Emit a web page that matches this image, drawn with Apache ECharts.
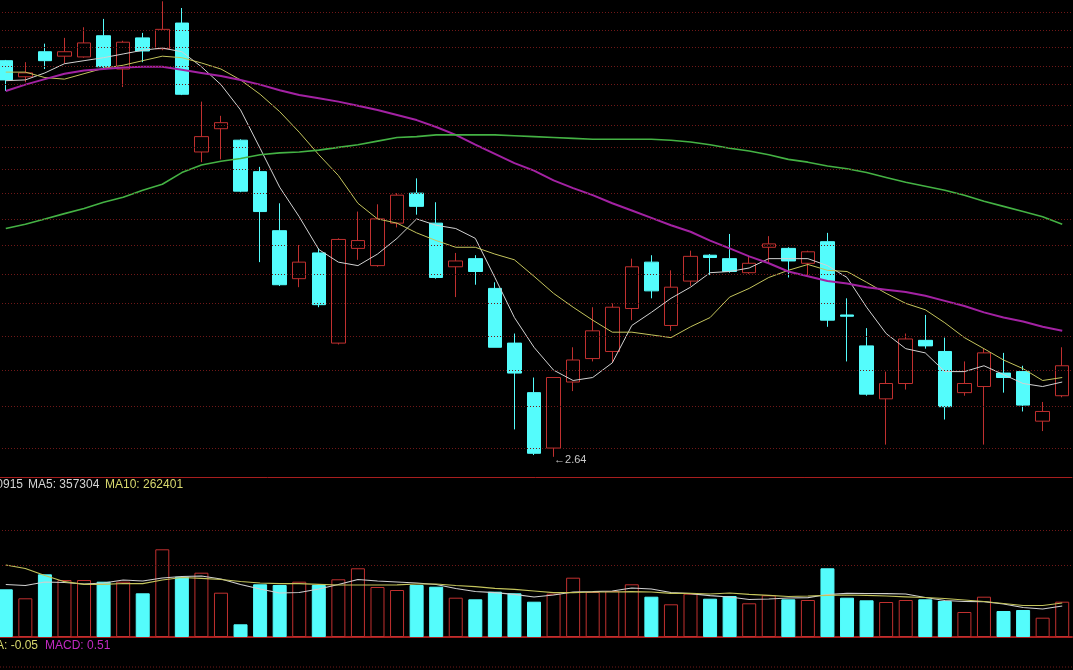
<!DOCTYPE html>
<html>
<head>
<meta charset="utf-8">
<script src="https://cdn.jsdelivr.net/npm/echarts@6/dist/echarts.min.js"></script>
<style>
  html, body { margin: 0; padding: 0; background: #000; }
  #chart { width: 1073px; height: 670px; }
</style>
</head>
<body>
<div id="chart"></div>
<script>
// daily bars, oldest first (no dates visible in the picture, so just numbered)
const open = [6.18, 5.97, 6.30, 6.24, 6.23, 6.52, 6.07, 6.49, 6.34, 6.70,
  5.08, 5.34, 5.21, 4.87, 4.29, 3.87, 4.09, 3.37, 4.13, 3.98,
  4.36, 4.65, 4.36, 3.97, 4.04, 3.79, 3.37, 3.03, 2.69, 3.10,
  3.26, 3.31, 3.63, 4.01, 3.50, 3.85, 4.07, 4.04, 3.92, 4.14,
  4.13, 4.00, 4.19, 3.58, 3.35, 2.99, 3.09, 3.39, 3.31, 3.03,
  3.07, 3.16, 3.17, 2.85, 3.01];
const close = [5.93, 6.02, 6.18, 6.30, 6.42, 6.10, 6.43, 6.31, 6.61, 5.75,
  5.25, 5.41, 4.67, 4.47, 3.82, 4.01, 3.66, 4.21, 4.20, 4.40,
  4.63, 4.52, 3.88, 4.02, 3.93, 3.34, 3.16, 2.66, 3.13, 3.25,
  3.46, 3.64, 3.97, 3.77, 3.80, 4.06, 4.05, 3.93, 4.00, 4.17,
  4.02, 4.10, 3.54, 3.57, 3.02, 3.09, 3.40, 3.35, 2.94, 3.09,
  3.30, 3.13, 2.95, 2.91, 3.21];
const low = [5.79, 5.90, 6.07, 6.14, 6.22, 6.07, 5.84, 6.16, 6.32, 5.74,
  4.97, 5.00, 4.66, 4.01, 3.81, 3.80, 3.64, 3.36, 4.03, 3.97,
  4.32, 4.44, 3.87, 3.72, 3.82, 3.34, 2.80, 2.65, 2.64, 3.04,
  3.24, 3.23, 3.54, 3.71, 3.46, 3.81, 3.90, 3.92, 3.91, 4.00,
  3.88, 3.90, 3.49, 3.24, 3.01, 2.71, 3.05, 3.33, 2.86, 3.01,
  2.71, 3.03, 2.91, 2.79, 3.00];
const high = [6.19, 6.16, 6.41, 6.49, 6.64, 6.76, 6.45, 6.56, 7.02, 6.92,
  5.66, 5.49, 5.22, 4.92, 4.55, 4.16, 4.13, 4.22, 4.47, 4.54,
  4.65, 4.80, 4.56, 4.09, 4.07, 3.84, 3.44, 3.13, 3.13, 3.34,
  3.64, 3.67, 4.04, 4.07, 3.94, 4.11, 4.08, 4.26, 4.06, 4.24,
  4.14, 4.11, 4.27, 3.71, 3.48, 3.17, 3.44, 3.58, 3.41, 3.24,
  3.33, 3.30, 3.21, 2.97, 3.34];

// moving averages as drawn on the price panel
const ma5 = [5.92, 5.93, 6.02, 6.14, 6.18, 6.22, 6.27, 6.32, 6.35, 6.30,
  6.10, 5.87, 5.56, 5.12, 4.71, 4.42, 4.12, 4.01, 3.98, 4.08,
  4.22, 4.40, 4.34, 4.31, 4.22, 3.88, 3.56, 3.34, 3.18, 3.11,
  3.13, 3.23, 3.50, 3.60, 3.71, 3.80, 3.92, 3.93, 3.96, 4.04,
  4.04, 4.04, 3.98, 3.88, 3.64, 3.44, 3.33, 3.30, 3.17, 3.17,
  3.21, 3.15, 3.09, 3.07, 3.10];
const ma10 = [6.03, 6.03, 5.96, 5.94, 6.01, 6.08, 6.12, 6.18, 6.24, 6.22,
  6.15, 6.07, 5.93, 5.75, 5.54, 5.30, 5.05, 4.83, 4.55, 4.40,
  4.36, 4.27, 4.20, 4.14, 4.14, 4.08, 4.03, 3.89, 3.75, 3.64,
  3.54, 3.45, 3.45, 3.43, 3.41, 3.49, 3.56, 3.72, 3.79, 3.88,
  3.94, 3.99, 3.94, 3.93, 3.84, 3.75, 3.67, 3.62, 3.52, 3.41,
  3.33, 3.25, 3.19, 3.11, 3.13];
const ma20 = [5.79, 5.87, 5.94, 6.01, 6.05, 6.07, 6.09, 6.10, 6.10, 6.06,
  6.02, 5.98, 5.93, 5.87, 5.80, 5.74, 5.70, 5.66, 5.61, 5.56,
  5.50, 5.44, 5.36, 5.27, 5.16, 5.06, 4.96, 4.88, 4.78, 4.70,
  4.63, 4.55, 4.48, 4.41, 4.34, 4.28, 4.20, 4.13, 4.06, 4.00,
  3.93, 3.89, 3.85, 3.83, 3.80, 3.78, 3.76, 3.73, 3.69, 3.65,
  3.60, 3.56, 3.53, 3.49, 3.46];
const ma60 = [4.31, 4.35, 4.40, 4.45, 4.50, 4.56, 4.61, 4.68, 4.74, 4.86,
  4.94, 4.98, 5.01, 5.05, 5.07, 5.08, 5.10, 5.13, 5.16, 5.20,
  5.24, 5.25, 5.27, 5.27, 5.27, 5.27, 5.26, 5.25, 5.24, 5.23,
  5.22, 5.22, 5.22, 5.22, 5.21, 5.19, 5.16, 5.12, 5.09, 5.05,
  5.00, 4.97, 4.93, 4.90, 4.86, 4.81, 4.76, 4.72, 4.68, 4.63,
  4.57, 4.52, 4.47, 4.42, 4.35];

// volume panel
const vol = [477000, 387000, 627000, 570000, 570000, 553000, 553000, 437000, 877000, 603000,
  643000, 443000, 127000, 527000, 520000, 553000, 520000, 577000, 687000, 500000,
  470000, 520000, 503000, 393000, 377000, 453000, 437000, 353000, 433000, 593000,
  450000, 460000, 527000, 403000, 327000, 433000, 383000, 410000, 337000, 417000,
  377000, 370000, 687000, 393000, 367000, 350000, 370000, 377000, 360000, 250000,
  403000, 260000, 270000, 193000, 353000];
const volMa5 = [525000, 515000, 550000, 545000, 530000, 540000, 570000, 560000, 590000, 605000,
  610000, 580000, 525000, 480000, 440000, 445000, 480000, 525000, 575000, 560000,
  550000, 540000, 525000, 485000, 455000, 443000, 427000, 400000, 420000, 450000,
  453000, 460000, 490000, 480000, 445000, 433000, 413000, 400000, 375000, 380000,
  390000, 393000, 425000, 437000, 435000, 433000, 430000, 395000, 365000, 355000,
  353000, 330000, 295000, 280000, 310000];
const volMa10 = [720000, 685000, 615000, 553000, 527000, 527000, 535000, 533000, 570000, 595000,
  587000, 575000, 555000, 540000, 533000, 533000, 527000, 520000, 520000, 520000,
  522000, 530000, 530000, 515000, 503000, 487000, 477000, 460000, 443000, 443000,
  450000, 450000, 453000, 450000, 437000, 437000, 430000, 440000, 427000, 417000,
  405000, 410000, 417000, 420000, 417000, 410000, 402000, 395000, 385000, 370000,
  355000, 335000, 315000, 315000, 340000];

// dotted guide levels
const priceGrid = [2.69, 2.94, 3.18, 3.42, 3.67, 3.91, 4.16, 4.40, 4.65, 4.89,
  5.13, 5.38, 5.62, 5.87, 6.11, 6.36, 6.60, 6.85];
const volGrid = [720000, 1070000];

const days = open.map((_, i) => i + 1);

const UP = '#c0302f';
const DOWN = '#54fcfc';
const DOTS = '#701818';
const FRAME = '#a81e1e';
const FONT = '12px "Liberation Sans", Arial, sans-serif';

const candles = open.map((o, i) => [o, close[i], low[i], high[i]]);
const volBars = vol.map((v, i) => ({
  value: v,
  itemStyle: close[i] >= open[i]
    ? { color: '#000', borderColor: UP, borderWidth: 1 }
    : { color: DOWN, borderColor: DOWN, borderWidth: 1 }
}));

function maLine(name, data, color, width, xi) {
  return {
    name: name, type: 'line', data: data,
    xAxisIndex: xi, yAxisIndex: xi,
    symbol: 'none', showSymbol: false, z: 3,
    lineStyle: { color: color, width: width }
  };
}

function guides(levels, xi) {
  return {
    type: 'line', data: days.map(() => '-'),
    xAxisIndex: xi, yAxisIndex: xi, z: 1, silent: true,
    markLine: {
      silent: true, symbol: ['none', 'none'], label: { show: false },
      lineStyle: { color: DOTS, type: [1, 2], width: 1 },
      data: levels.map(v => ({ yAxis: v }))
    }
  };
}

function hiddenCat(gi, lineWidth) {
  return {
    type: 'category', data: days, gridIndex: gi, boundaryGap: true,
    axisLine: { show: true, onZero: false, lineStyle: { color: FRAME, width: lineWidth } },
    axisTick: { show: false }, axisLabel: { show: false }, splitLine: { show: false }
  };
}

function label(text, x, y, color, align) {
  return {
    type: 'text', x: x, y: y, silent: true,
    style: {
      text: text, fill: color, font: FONT,
      textAlign: align, align: align,
      textVerticalAlign: 'middle', verticalAlign: 'middle'
    }
  };
}

const chart = echarts.init(document.getElementById('chart'));

chart.setOption({
  backgroundColor: '#000',
  animation: false,
  grid: [
    { left: -4, right: 1, top: 0, height: 477, outerBoundsMode: 'none', containLabel: false },
    { left: -4, right: 1, top: 478, height: 159, outerBoundsMode: 'none', containLabel: false }
  ],
  xAxis: [hiddenCat(0, 1), hiddenCat(1, 2)],
  yAxis: [
    {
      type: 'log', gridIndex: 0, min: 2.528, max: 7.04,
      axisLine: { show: false }, axisTick: { show: false },
      axisLabel: { show: false }, splitLine: { show: false }
    },
    {
      type: 'value', gridIndex: 1, min: 0, max: 1590000,
      axisLine: { show: false }, axisTick: { show: false },
      axisLabel: { show: false }, splitLine: { show: false }
    }
  ],
  series: [
    guides(priceGrid, 0),
    {
      name: 'K', type: 'candlestick', data: candles,
      xAxisIndex: 0, yAxisIndex: 0, barWidth: 14, z: 2,
      itemStyle: {
        color: '#000', color0: DOWN,
        borderColor: UP, borderColor0: DOWN, borderWidth: 1
      },
      markPoint: {
        symbol: 'rect', symbolSize: 1,
        itemStyle: { color: 'rgba(0,0,0,0)' },
        label: {
          show: true, position: 'right', distance: 0, offset: [0, 3],
          color: '#c8c8c8', fontSize: 11,
          fontFamily: '"Liberation Sans", "DejaVu Sans", sans-serif',
          formatter: p => '\u2190' + p.value
        },
        data: [{ type: 'min', valueDim: 'lowest' }]
      }
    },
    maLine('MA5', ma5, '#d2d2d2', 1, 0),
    maLine('MA10', ma10, '#c4c45c', 1, 0),
    maLine('MA20', ma20, '#a322a3', 2, 0),
    maLine('MA60', ma60, '#44b244', 1.6, 0),
    guides(volGrid, 1),
    {
      name: 'VOL', type: 'bar', data: volBars,
      xAxisIndex: 1, yAxisIndex: 1, barWidth: 14, z: 2
    },
    maLine('VMA5', volMa5, '#cfcfcf', 1.2, 1),
    maLine('VMA10', volMa10, '#c4c45c', 1.2, 1)
  ],
  graphic: [
    label('0915', 23, 485, '#d4d4d4', 'right'),
    label('MA5: 357304', 28, 485, '#d4d4d4', 'left'),
    label('MA10: 262401', 105, 485, '#d8d86e', 'left'),
    label('A: -0.05', 38, 646, '#d8d86e', 'right'),
    label('MACD: 0.51', 45, 646, '#c22ac2', 'left'),
    {
      type: 'line', silent: true,
      shape: { x1: 0, y1: 667, x2: 1073, y2: 667 },
      style: { stroke: DOTS, lineWidth: 1, lineDash: [1, 2] }
    }
  ]
});
</script>
</body>
</html>
